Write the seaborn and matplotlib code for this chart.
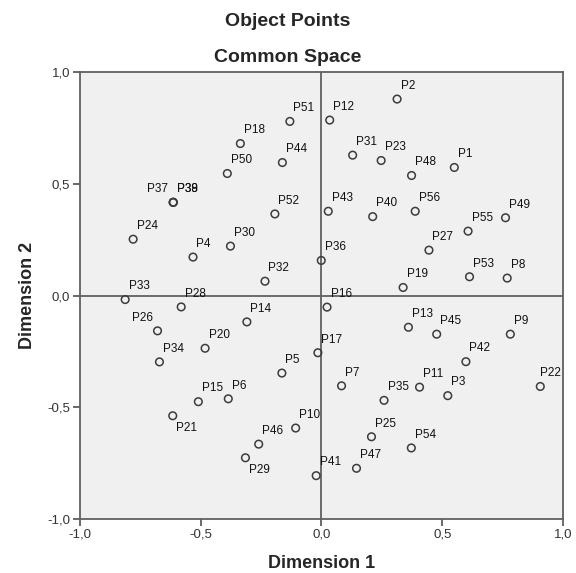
import pandas as pd
import seaborn as sns
import matplotlib.pyplot as plt
from matplotlib.ticker import FuncFormatter

# Object points
labels = ['P1', 'P2', 'P3', 'P4', 'P5', 'P6', 'P7', 'P8', 'P9', 'P10',
          'P11', 'P12', 'P13', 'P14', 'P15', 'P16', 'P17', 'P18', 'P19', 'P20',
          'P21', 'P22', 'P23', 'P24', 'P25', 'P26', 'P27', 'P28', 'P29', 'P30',
          'P31', 'P32', 'P33', 'P34', 'P35', 'P36', 'P37', 'P38', 'P39', 'P40',
          'P41', 'P42', 'P43', 'P44', 'P45', 'P46', 'P47', 'P48', 'P49', 'P50',
          'P51', 'P52', 'P53', 'P54', 'P55', 'P56']
dim1 = [0.550, 0.313, 0.523, -0.532, -0.164, -0.386, 0.083, 0.769, 0.782, -0.107,
        0.406, 0.034, 0.360, -0.309, -0.510, 0.023, -0.015, -0.336, 0.338, -0.482,
        -0.616, 0.906, 0.247, -0.780, 0.207, -0.679, 0.445, -0.581, -0.315, -0.377,
        0.129, -0.234, -0.813, -0.671, 0.259, -0.001, -0.614, -0.614, -0.614, 0.212,
        -0.022, 0.598, 0.028, -0.162, 0.477, -0.260, 0.145, 0.373, 0.762, -0.390,
        -0.131, -0.193, 0.613, 0.372, 0.607, 0.388]
dim2 = [0.573, 0.879, -0.448, 0.172, -0.347, -0.462, -0.404, 0.078, -0.173, -0.593,
        -0.410, 0.785, -0.142, -0.118, -0.475, -0.052, -0.256, 0.680, 0.036, -0.236,
        -0.538, -0.407, 0.604, 0.252, -0.632, -0.158, 0.203, -0.051, -0.726, 0.221,
        0.628, 0.064, -0.018, -0.297, -0.469, 0.157, 0.417, 0.417, 0.417, 0.353,
        -0.806, -0.296, 0.377, 0.595, -0.173, -0.665, -0.773, 0.537, 0.348, 0.546,
        0.779, 0.365, 0.084, -0.682, 0.288, 0.377]

df = pd.DataFrame({'label': labels, 'dim1': dim1, 'dim2': dim2})

# label placement: default is up-right of the point
default_off = (2.5, 9.5, 'left')
special_off = {
    'P37': (-3.5, 9.5, 'right'),
    'P26': (-3.0, 9.5, 'right'),
    'P21': (2.5, -9.0, 'left'),
    'P29': (2.5, -9.0, 'left'),
    'P22': (-0.5, 9.5, 'left'),
}

sns.set_style('white')
plt.rcParams['font.family'] = ['Liberation Sans', 'DejaVu Sans']

fig = plt.figure(figsize=(5.76, 5.73), dpi=100)
ax = fig.add_axes([0.1389, 0.0942, 0.8385, 0.7801])
ax.set_facecolor('#f0f0f0')

ax.axhline(0, color='#606060', lw=1.3, zorder=1)
ax.axvline(0, color='#606060', lw=1.3, zorder=1)

sns.scatterplot(data=df, x='dim1', y='dim2', ax=ax, s=30, marker='o',
                facecolor='none', edgecolor='#3c3c3c', linewidth=1.1, zorder=3)

for lab, x, y in zip(df['label'], df['dim1'], df['dim2']):
    dx, dy, ha = special_off.get(lab, default_off)
    ax.annotate(lab, (x, y), xytext=(dx, dy), textcoords='offset points',
                ha=ha, va='center', fontsize=8.5, color='#111111')

ax.set_xlim(-1, 1)
ax.set_ylim(-1, 1)
ticks = [-1.0, -0.5, 0.0, 0.5, 1.0]
ax.set_xticks(ticks)
ax.set_yticks(ticks)
fmt = FuncFormatter(lambda v, p: f'{v:.1f}'.replace('.', ','))
ax.xaxis.set_major_formatter(fmt)
ax.yaxis.set_major_formatter(fmt)
ax.tick_params(axis='both', direction='out', length=5, width=1.2, color='#505050',
               labelsize=9.5, labelcolor='#333333', pad=2, bottom=True, left=True)

for sp in ax.spines.values():
    sp.set_color('#606060')
    sp.set_linewidth(1.3)

ax.set_xlabel('Dimension 1', fontsize=13, fontweight='bold', labelpad=10)
ax.set_ylabel('Dimension 2', fontsize=13, fontweight='bold', labelpad=8)

fig.text(0.5, 1 - 22 / 573, 'Object Points', ha='center', va='center',
         fontsize=14, fontweight='bold')
fig.text(0.5, 1 - 58 / 573, 'Common Space', ha='center', va='center',
         fontsize=14, fontweight='bold')

fig.savefig('out.png', dpi=100)
